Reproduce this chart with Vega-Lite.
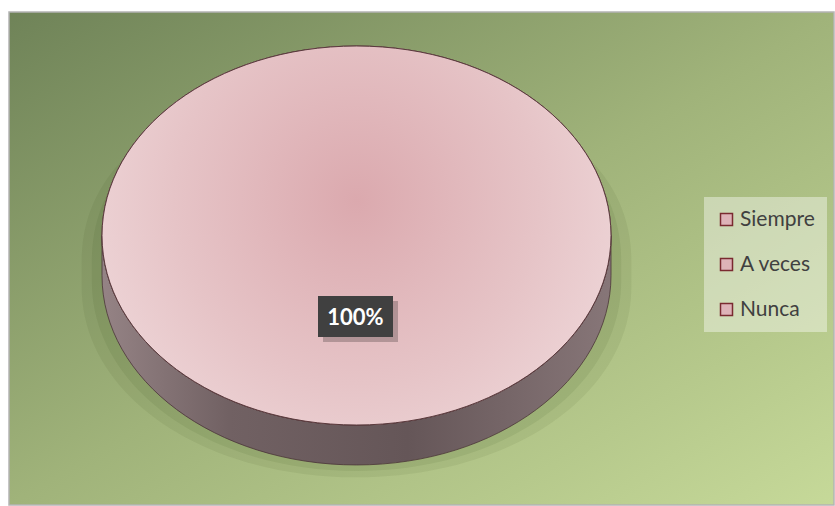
{
  "$schema": "https://vega.github.io/schema/vega-lite/v6.json",
  "width": 835,
  "height": 506,
  "autosize": {"type": "fit", "contains": "padding"},
  "padding": {"left": 8, "top": 11, "right": 0, "bottom": 0},
  "background": "white",
  "config": {
    "view": {"stroke": "#b4b4b4", "strokeWidth": 1.5},
    "font": "Lato"
  },
  "data": {"values": [
    {"category": "Siempre", "value": 100},
    {"category": "A veces", "value": 0},
    {"category": "Nunca", "value": 0}
  ]},
  "transform": [
    {"joinaggregate": [{"op": "sum", "field": "value", "as": "total"}]},
    {"calculate": "datum.value / datum.total", "as": "pct"}
  ],
  "layer": [
    {
      "transform": [{"filter": "datum.value > 0"}],
      "mark": {
        "type": "rect",
        "fill": {"gradient": "linear", "x1": 0, "y1": 0, "x2": 1, "y2": 1, "stops": [
          {"offset": 0, "color": "#6f8358"},
          {"offset": 0.5, "color": "#a0b37a"},
          {"offset": 1, "color": "#c6d999"}
        ]},
        "stroke": "#b4b4b4",
        "strokeWidth": 1.5,
        "opacity": 1
      },
      "encoding": {}
    },
    {
      "transform": [{"filter": "datum.value > 0"}],
      "mark": {
        "type": "point", "filled": true, "size": 259081, "xOffset": -65, "yOffset": -23,
        "shape": "M -1.08 0.1 C -1.08 -0.35 -0.6 -0.6 0 -0.6 C 0.6 -0.6 1.08 -0.35 1.08 0.1 L 1.08 0.2 C 1.08 0.63 0.6 0.95 0 0.95 C -0.6 0.95 -1.08 0.63 -1.08 0.2 Z",
        "fill": "#2a3a10", "opacity": 0.07
      },
      "encoding": {}
    },
    {
      "transform": [{"filter": "datum.value > 0"}],
      "mark": {
        "type": "point", "filled": true, "size": 259081, "xOffset": -65, "yOffset": -23,
        "shape": "M -1.04 0.1 C -1.04 -0.35 -0.58 -0.6 0 -0.6 C 0.58 -0.6 1.04 -0.35 1.04 0.1 L 1.04 0.18 C 1.04 0.6 0.58 0.925 0 0.925 C -0.58 0.925 -1.04 0.6 -1.04 0.18 Z",
        "fill": "#2a3a10", "opacity": 0.08
      },
      "encoding": {}
    },
    {
      "transform": [{"filter": "datum.value > 0"}],
      "mark": {
        "type": "point", "filled": true, "size": 259081, "xOffset": -65, "yOffset": -23,
        "shape": "M -1 0 L -1 0.157 C -1 0.5682 -0.5523 0.9016 0 0.9016 C 0.5523 0.9016 1 0.5682 1 0.157 L 1 0 C 1 0.4112 0.5523 0.7446 0 0.7446 C -0.5523 0.7446 -1 0.4112 -1 0 Z",
        "fill": {"gradient": "linear", "x1": 0, "y1": 0, "x2": 1, "y2": 0, "stops": [
          {"offset": 0, "color": "#958385"},
          {"offset": 0.25, "color": "#716163"},
          {"offset": 0.6, "color": "#655658"},
          {"offset": 1, "color": "#877678"}
        ]},
        "opacity": 1,
        "stroke": "#4a3537",
        "strokeWidth": 0.8
      },
      "encoding": {}
    },
    {
      "transform": [{"filter": "datum.value > 0"}],
      "mark": {
        "type": "point", "filled": true, "size": 259081, "xOffset": -65, "yOffset": -23,
        "shape": "M -1 0 C -1 -0.4112 -0.5523 -0.7446 0 -0.7446 C 0.5523 -0.7446 1 -0.4112 1 0 C 1 0.4112 0.5523 0.7446 0 0.7446 C -0.5523 0.7446 -1 0.4112 -1 0 Z",
        "opacity": 1,
        "stroke": "#5a3a3d",
        "strokeWidth": 1
      },
      "encoding": {
        "fill": {
          "field": "category", "type": "nominal",
          "scale": {
            "domain": ["Siempre", "A veces", "Nunca"],
            "range": ["#deb3b8", "#deb3b8", "#deb3b8"]
          },
          "legend": {
            "title": null,
            "orient": "none",
            "legendX": 695,
            "legendY": 185,
            "fillColor": "rgba(255,255,255,0.4)",
            "padding": 12,
            "symbolType": "square",
            "symbolSize": 144,
            "symbolStrokeColor": "#7a2a30",
            "symbolStrokeWidth": 1.5,
            "symbolOpacity": 1,
            "labelFont": "Lato",
            "labelFontSize": 21,
            "labelColor": "#404040",
            "labelOffset": 3,
            "labelLimit": 300,
            "rowPadding": 23
          }
        }
      }
    },
    {
      "transform": [{"filter": "datum.value > 0"}],
      "mark": {
        "type": "point", "filled": true, "size": 259081, "xOffset": -65, "yOffset": -23,
        "shape": "M -1 0 C -1 -0.4112 -0.5523 -0.7446 0 -0.7446 C 0.5523 -0.7446 1 -0.4112 1 0 C 1 0.4112 0.5523 0.7446 0 0.7446 C -0.5523 0.7446 -1 0.4112 -1 0 Z",
        "fill": {"gradient": "radial", "x1": 0.5, "y1": 0.43, "r1": 0, "x2": 0.5, "y2": 0.43, "r2": 0.6, "stops": [{"offset": 0, "color": "#dba9ae"}, {"offset": 0.6, "color": "#e6c4c7"}, {"offset": 1, "color": "#efd8da"}]},
        "opacity": 1,
        "stroke": "#5a3a3d",
        "strokeWidth": 1
      },
      "encoding": {}
    },
    {
      "transform": [{"filter": "datum.value > 0"}],
      "mark": {
        "type": "point", "filled": true, "size": 5625, "xOffset": -61, "yOffset": 63,
        "shape": "M -1 -0.547 L 1 -0.547 L 1 0.547 L -1 0.547 Z",
        "fill": "#000000", "opacity": 0.22
      },
      "encoding": {}
    },
    {
      "transform": [{"filter": "datum.value > 0"}],
      "mark": {
        "type": "point", "filled": true, "size": 5625, "xOffset": -66, "yOffset": 58,
        "shape": "M -1 -0.547 L 1 -0.547 L 1 0.547 L -1 0.547 Z",
        "fill": "#404040", "opacity": 1
      },
      "encoding": {}
    },
    {
      "transform": [{"filter": "datum.value > 0"}],
      "mark": {
        "type": "text", "xOffset": -66, "yOffset": 59, "font": "Lato", "fontWeight": "bold",
        "fontSize": 22, "color": "#ffffff", "align": "center", "baseline": "middle"
      },
      "encoding": {"text": {"field": "pct", "type": "quantitative", "format": ".0%"}}
    }
  ]
}
